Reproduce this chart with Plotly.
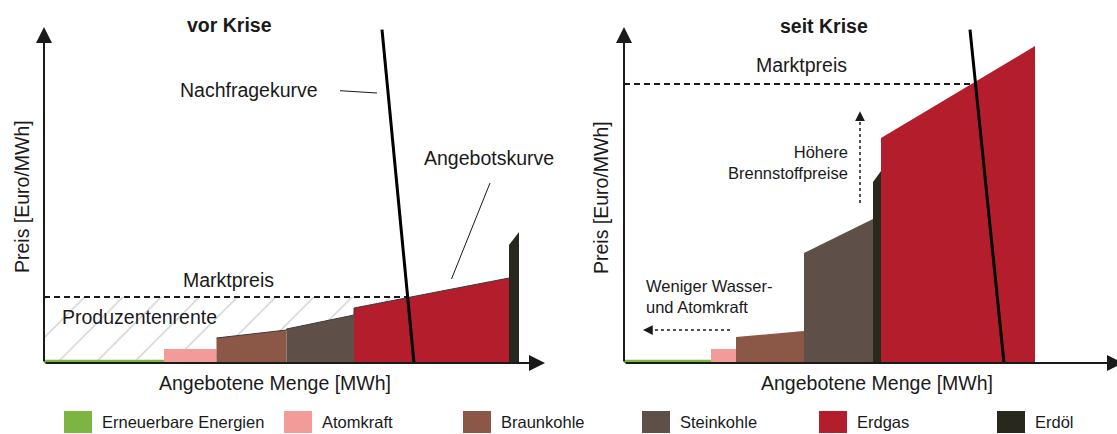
import numpy as np
import plotly.graph_objects as go

W, H = 1117, 434

# ---------------- data ----------------
categories = ["Erneuerbare Energien", "Atomkraft", "Braunkohle", "Steinkohle", "Erdgas", "Erdöl"]
colors = ["#7CB542", "#F29B98", "#8B5848", "#5E5048", "#B41E2C", "#28281F"]

# vor Krise: merit order (category index per block, left to right)
pre_order = [0, 1, 2, 3, 4, 5]
pre_edges = [0, 24, 34.5, 48.5, 62, 93, 95]          # cumulative quantity
pre_top_start = [1.0, 4.2, 7.5, 10.2, 16.5, 35.4]    # price at block start
pre_top_end = [1.0, 4.2, 9.9, 14.4, 25.5, 39.3]      # price at block end
pre_market_price = 19.8
pre_demand_x = [74.0, 67.6]                          # quantity at price 0 / 100

# seit Krise
post_order = [0, 1, 2, 3, 5, 4]
post_edges = [0, 17.4, 22.4, 36.0, 49.8, 51.4, 82.2]
post_top_start = [1.0, 4.2, 7.8, 33.0, 54.3, 67.5]
post_top_end = [1.0, 4.2, 9.6, 43.2, 57.6, 95.1]
post_market_price = 83.7
post_demand_x = [76.0, 69.2]

demand_price = [0, 100]

FONT = "Liberation Sans, Arial, sans-serif"
INK = "#1a1a1a"

fig = go.Figure()


def panel(xa, ya, order, edges, ts, te, mprice, dem_x, hatch, outline):
    x_int = float(np.interp(mprice, demand_price, dem_x))
    if hatch:
        fig.add_trace(go.Scatter(
            x=[0, x_int, x_int, 0, 0], y=[0, 0, mprice, mprice, 0],
            mode="lines", fill="toself", fillcolor="white",
            fillpattern=dict(shape="/", fgcolor="#9c9c9c", bgcolor="white", size=27, solidity=0.05),
            line=dict(width=0), xaxis=xa, yaxis=ya, showlegend=False, hoverinfo="skip"))
    for k, ci in enumerate(order):
        x0, x1 = edges[k], edges[k + 1]
        fig.add_trace(go.Scatter(
            x=[x0, x0, x1, x1, x0], y=[0, ts[k], te[k], 0, 0],
            mode="lines", fill="toself", fillcolor=colors[ci],
            line=dict(width=0, color=colors[ci]), name=categories[ci],
            xaxis=xa, yaxis=ya, showlegend=False))
    if outline:
        ox, oy = [], []
        for k in range(2, 5):
            ox += [edges[k], edges[k + 1]]
            oy += [ts[k], te[k]]
        fig.add_trace(go.Scatter(x=ox, y=oy, mode="lines", line=dict(width=1, color="#3a3a3a"),
                                 xaxis=xa, yaxis=ya, showlegend=False, hoverinfo="skip"))
    fig.add_trace(go.Scatter(x=[0, x_int], y=[mprice, mprice], mode="lines",
                             line=dict(width=2, color=INK, dash="6px,4px"),
                             xaxis=xa, yaxis=ya, showlegend=False, hoverinfo="skip"))
    fig.add_trace(go.Scatter(x=dem_x, y=demand_price, mode="lines",
                             line=dict(width=3, color="black"),
                             xaxis=xa, yaxis=ya, showlegend=False, hoverinfo="skip"))


panel("x", "y", pre_order, pre_edges, pre_top_start, pre_top_end, pre_market_price, pre_demand_x, True, True)
panel("x2", "y2", post_order, post_edges, post_top_start, post_top_end, post_market_price, post_demand_x, False, False)

# leader lines (left panel)
fig.add_trace(go.Scatter(x=[59.2, 66.6], y=[81.7, 81.0], mode="lines", line=dict(width=1, color=INK),
                         xaxis="x", yaxis="y", showlegend=False, hoverinfo="skip"))
fig.add_trace(go.Scatter(x=[89.2, 81.5], y=[54.0, 25.2], mode="lines", line=dict(width=1, color=INK),
                         xaxis="x", yaxis="y", showlegend=False, hoverinfo="skip"))

# dotted arrows (right panel)
fig.add_trace(go.Scatter(x=[47.2, 47.2], y=[48.0, 73.5], mode="lines", line=dict(width=1.5, color=INK, dash="dot"),
                         xaxis="x2", yaxis="y2", showlegend=False, hoverinfo="skip"))
fig.add_trace(go.Scatter(x=[21.2, 5.5], y=[9.9, 9.9], mode="lines", line=dict(width=1.5, color=INK, dash="dot"),
                         xaxis="x2", yaxis="y2", showlegend=False, hoverinfo="skip"))

ann = []


def arrow(xr, yr, x, y, ax, ay, w=2, size=1.5):
    ann.append(dict(x=x, y=y, ax=ax, ay=ay, xref=xr, yref=yr, axref=xr, ayref=yr,
                    showarrow=True, arrowhead=2, arrowsize=size, arrowwidth=w,
                    arrowcolor=INK, text="", standoff=0))


def text(xr, yr, x, y, s, size=19.5, xanchor="center", bold=False, angle=0, align="center"):
    ann.append(dict(x=x, y=y, xref=xr, yref=yr, text=(f"<b>{s}</b>" if bold else s), showarrow=False,
                    xanchor=xanchor, yanchor="middle", align=align, textangle=angle,
                    font=dict(family=FONT, size=size, color=INK)))


for xr, yr, xt in (("x", "y", 100.2), ("x2", "y2", 99.8)):
    arrow(xr, yr, 0, 100.8, 0, 0, size=1.6)
    arrow(xr, yr, xt, 0, 0, 0, size=1.6)

arrow("x2", "y2", 47.2, 75.5, 47.2, 73.0, w=1.5, size=1.3)
arrow("x2", "y2", 3.8, 9.9, 6.0, 9.9, w=1.5, size=1.3)

# left panel texts
text("x", "y", 37.1, 101.4, "vor Krise", bold=True)
text("x", "y", 41.0, 81.9, "Nachfragekurve")
text("x", "y", 89.0, 61.5, "Angebotskurve")
text("x", "y", 36.8, 24.9, "Marktpreis")
text("x", "y", 3.2, 13.8, "Produzentenrente", xanchor="left")
text("x", "y", 46.2, -6.0, "Angebotene Menge [MWh]")
text("x", "y", -4.4, 49.8, "Preis [Euro/MWh]", angle=-90)

# right panel texts
text("x2", "y2", 39.9, 101.2, "seit Krise", bold=True)
text("x2", "y2", 35.4, 89.4, "Marktpreis")
text("x2", "y2", 45.2, 60.3, "Höhere<br>Brennstoffpreise", size=16.5, xanchor="right", align="right")
text("x2", "y2", 4.0, 20.0, "Weniger Wasser-<br>und Atomkraft", size=16.5, xanchor="left", align="left")
text("x2", "y2", 50.6, -6.0, "Angebotene Menge [MWh]")
text("x2", "y2", -4.6, 49.5, "Preis [Euro/MWh]", angle=-90)

# manual legend
legend_px = [64, 284, 463, 642, 819, 997]
shapes = []
for i, cat in enumerate(categories):
    px = legend_px[i]
    shapes.append(dict(type="rect", xref="paper", yref="paper",
                       x0=px / W, x1=(px + 28) / W, y0=1 - 433 / H, y1=1 - 411 / H,
                       fillcolor=colors[i], line=dict(width=0)))
    ann.append(dict(x=(px + 36) / W, y=1 - 422 / H, xref="paper", yref="paper", text=cat,
                    showarrow=False, xanchor="left", yanchor="middle",
                    font=dict(family=FONT, size=16.5, color=INK)))

XS, YS = 5.0, 3.333
split = 560
ax_common = dict(visible=False, fixedrange=True, showgrid=False, zeroline=False)
fig.update_layout(
    width=W, height=H, margin=dict(l=0, r=0, t=0, b=0),
    paper_bgcolor="white", plot_bgcolor="white",
    xaxis=dict(domain=[0, split / W], range=[-44 / XS, (split - 44) / XS], anchor="y", **ax_common),
    yaxis=dict(domain=[0, 1], range=[-(H - 363) / YS, 363 / YS], anchor="x", **ax_common),
    xaxis2=dict(domain=[split / W, 1], range=[-(624 - split) / XS, (W - 624) / XS], anchor="y2", **ax_common),
    yaxis2=dict(domain=[0, 1], range=[-(H - 363) / YS, 363 / YS], anchor="x2", **ax_common),
    annotations=ann, shapes=shapes, showlegend=False,
)

fig.write_html("out.html", config={"displayModeBar": False},
               post_script="document.body.style.margin='0px';document.body.style.overflow='hidden';")
